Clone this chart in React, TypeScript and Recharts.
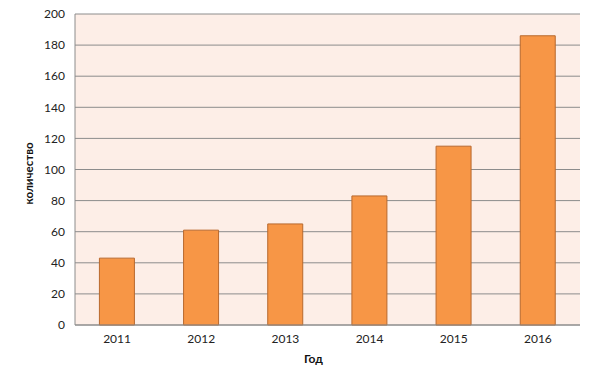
import React from 'react';
import { BarChart, Bar, XAxis, YAxis, CartesianGrid } from 'recharts';

const years = ['2011', '2012', '2013', '2014', '2015', '2016'];
const counts = [43, 61, 65, 83, 115, 186];
const yTicks = [0, 20, 40, 60, 80, 100, 120, 140, 160, 180, 200];

const data = years.map((year, i) => ({ year, count: counts[i] }));

const font = 'Lato, "DejaVu Sans", sans-serif';

const App: React.FC = () => {
  return (
    <div style={{ position: 'absolute', left: 0, top: 0, width: 592, height: 387, background: '#fff' }}>
      <BarChart
        width={592}
        height={387}
        data={data}
        margin={{ top: 14, right: 12, bottom: 0, left: 0 }}
        barCategoryGap="29%"
      >
        <CartesianGrid vertical={false} stroke="#8c8c8c" fill="#fdeee7" fillOpacity={1} />
        <XAxis
          dataKey="year"
          height={62}
          stroke="#8c8c8c"
          tickLine={false}
          tickMargin={3}
          tick={{ fill: '#222', fontSize: 12, fontFamily: font }}
          label={{
            value: 'Год',
            position: 'center',
            dx: -14,
            dy: 3,
            style: { fill: '#111', fontSize: 12, fontWeight: 'bold', fontFamily: font },
          }}
        />
        <YAxis
          width={75}
          domain={[0, 200]}
          ticks={yTicks}
          interval={0}
          stroke="#8c8c8c"
          tickLine={false}
          tickMargin={4}
          tick={{ fill: '#222', fontSize: 12, fontFamily: font }}
          label={{
            value: 'количество',
            angle: -90,
            position: 'center',
            dx: -9,
            dy: 4,
            style: { fill: '#111', fontSize: 11.5, fontWeight: 'bold', fontFamily: font, textAnchor: 'middle' },
          }}
        />
        <Bar dataKey="count" fill="#f79646" stroke="#b8692e" strokeWidth={1} isAnimationActive={false} />
      </BarChart>
    </div>
  );
};

export default App;
